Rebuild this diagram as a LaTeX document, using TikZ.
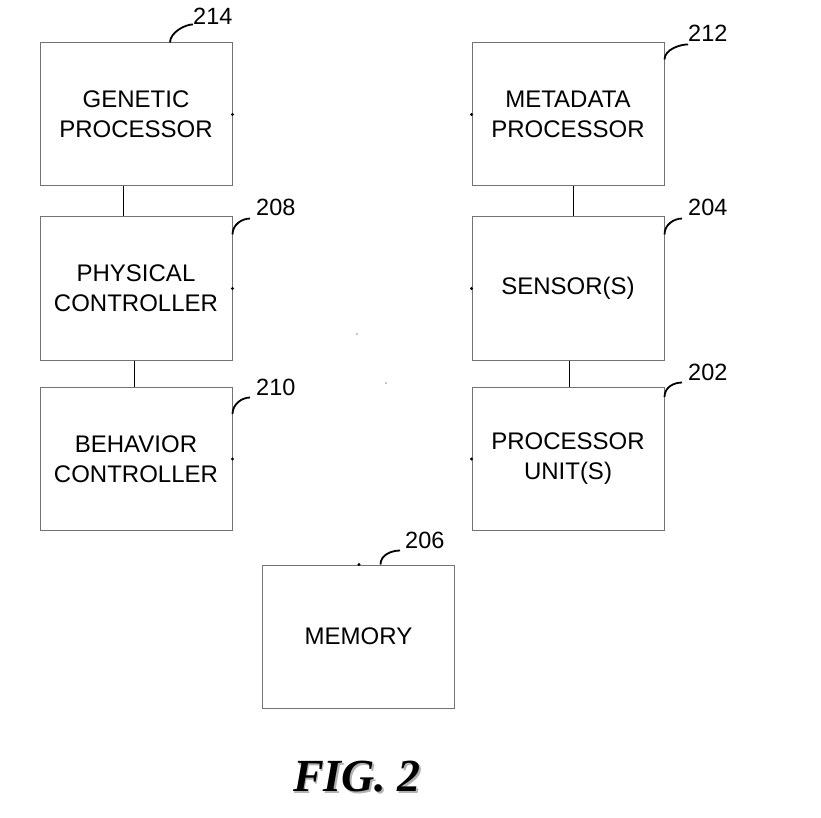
\documentclass[tikz,border=0pt]{standalone}
\usepackage{fontspec}
\setmainfont{Liberation Sans}
\newfontfamily\figfont{Liberation Serif}
\begin{document}
\begin{tikzpicture}[x=1pt,y=-1pt,
    block/.style={draw=black!55,line width=1pt,minimum width=192pt,minimum height=143pt,
      align=center,inner sep=0pt,font=\fontsize{24}{30}\selectfont},
    refnum/.style={anchor=west,inner sep=0pt,font=\fontsize{23.5}{26}\selectfont},
    leader/.style={line width=1.8pt},
    link/.style={line width=0.9pt}]
    \useasboundingbox (0,0) rectangle (821,818);
        \node[block] (gen) at (136,114.5) {GENETIC\\PROCESSOR};
        \node[block] (meta) at (568,114.5) {METADATA\\PROCESSOR};
        \node[block] (phys) at (136,288.5) {PHYSICAL\\CONTROLLER};
        \node[block] (sens) at (568,288.5) {SENSOR(S)};
        \node[block] (beh) at (136,459) {BEHAVIOR\\CONTROLLER};
        \node[block] (proc) at (568,459) {PROCESSOR\\UNIT(S)};
        \node[block] (mem) at (358.5,636.5) {MEMORY};
        % links
        \draw[link] ([xshift=-13pt]gen.south) -- ([xshift=-13pt]phys.north);
        \draw[link] ([xshift=-2pt]phys.south) -- ([xshift=-2pt]beh.north);
        \draw[link] ([xshift=5pt]meta.south) -- ([xshift=5pt]sens.north);
        \draw[link] ([xshift=1pt]sens.south) -- ([xshift=1pt]proc.north);
        % bus points
        \foreach \n in {gen,phys,beh} \fill (\n.east) circle (1.6pt);
        \foreach \n in {meta,sens,proc} \fill (\n.west) circle (1.6pt);
        \fill ([xshift=0.5pt]mem.north) circle (1.6pt);
        \fill (357,334) circle (0.7pt);
        \fill (386,383) circle (0.7pt);
        % reference numerals
        \node[refnum] (n214) at (193,16) {214};
        \node[refnum] (n212) at (688,33) {212};
        \node[refnum] (n208) at (256,207) {208};
        \node[refnum] (n204) at (688,207) {204};
        \node[refnum] (n210) at (256,387) {210};
        \node[refnum] (n202) at (688,372) {202};
        \node[refnum] (n206) at (405,540) {206};
        \draw[leader] ([xshift=34pt]gen.north) .. controls +(0,-10) and +(-8,0) .. (n214.south west);
        \draw[leader] ([yshift=-17pt]meta.north east) .. controls +(0,-10) and +(-8,0) .. ([yshift=-3pt]n212.south west);
        \draw[leader] ([yshift=-18pt]phys.north east) .. controls +(0,-10) and +(-8,0) .. ([xshift=-6pt,yshift=-3pt]n208.south west);
        \draw[leader] ([yshift=-18pt]sens.north east) .. controls +(0,-10) and +(-8,0) .. ([xshift=-6pt,yshift=-3pt]n204.south west);
        \draw[leader] ([yshift=-27pt]beh.north east) .. controls +(0,-10) and +(-8,0) .. ([xshift=-6pt,yshift=-2pt]n210.south west);
        \draw[leader] ([yshift=-10pt]proc.north east) .. controls +(0,-10) and +(-8,0) .. ([xshift=-6pt,yshift=-2pt]n202.south west);
        \draw[leader] ([xshift=22pt]mem.north) .. controls +(0,-10) and +(-8,0) .. ([xshift=-5pt,yshift=-2pt]n206.south west);
        \node[text=black!30,font=\figfont\bfseries\itshape\fontsize{46}{50}\selectfont] at (358.5,778.5) {FIG. 2};
        \node[font=\figfont\bfseries\itshape\fontsize{46}{50}\selectfont] (fig) at (357,777) {FIG. 2};
    \end{tikzpicture}
\end{document}
